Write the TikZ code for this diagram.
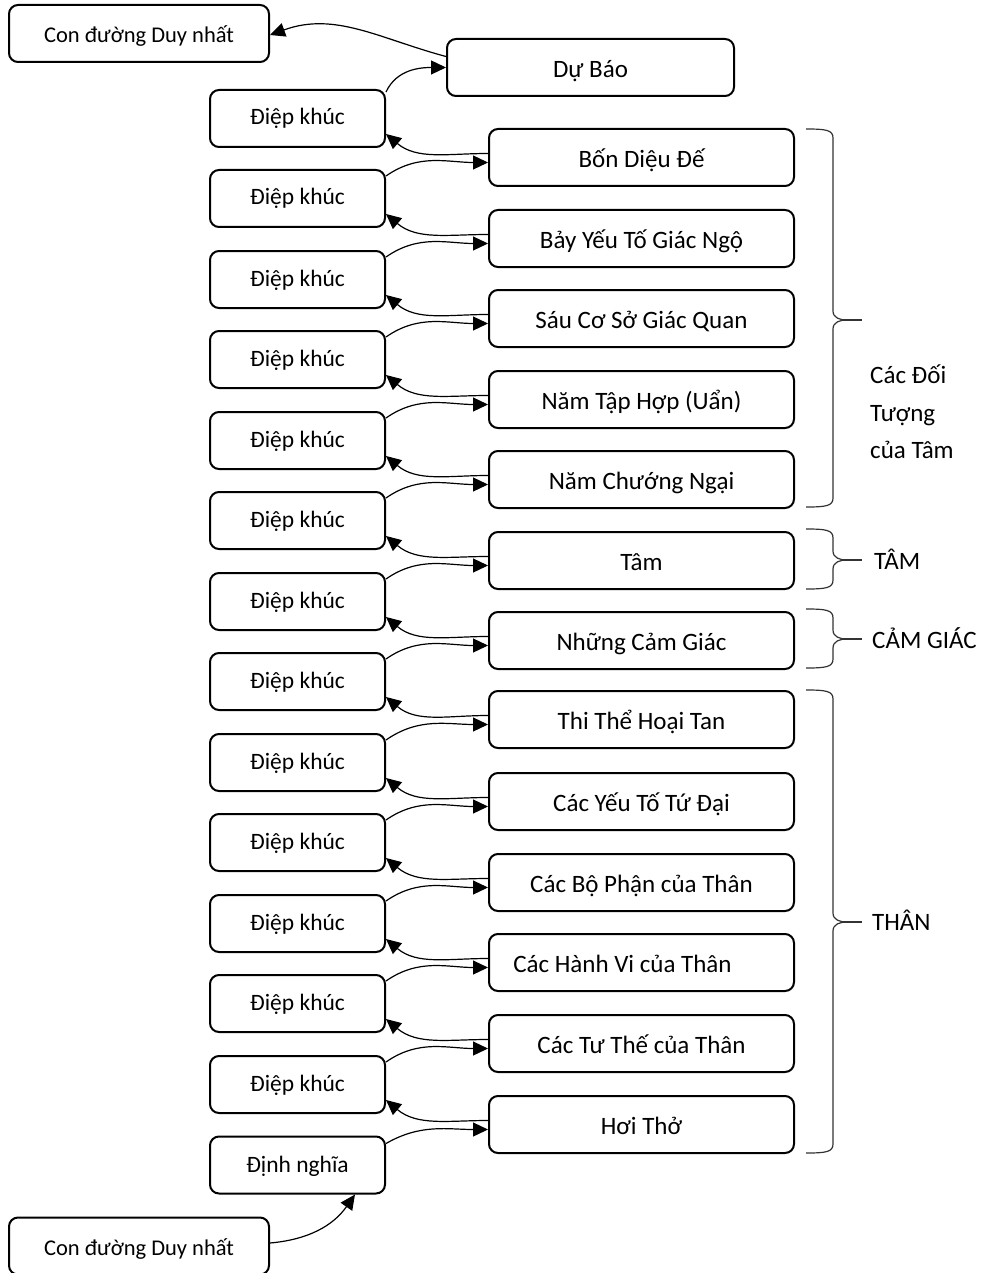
\documentclass[tikz,border=0pt]{standalone}
\usepackage{fontspec}
\setmainfont{Carlito}
\usetikzlibrary{arrows.meta}
\newcommand{\mybrace}[3]{%
  \draw[bracestyle] (806,#1) .. controls (826,#1) and (833,#1+1) .. (833,#1+9)
    -- (833,#3-9) .. controls (833,#3-2) and (840,#3) .. (847,#3)
    .. controls (840,#3) and (833,#3+2) .. (833,#3+9)
    -- (833,#2-9) .. controls (833,#2-1) and (826,#2) .. (806,#2);
  \draw[bracestyle, line width=1.6pt] (845,#3) -- (862,#3);}
\tikzset{
  box/.style={draw, line width=2pt, rounded corners=9pt, inner sep=0pt},
  rbox/.style={box, minimum width=305pt, minimum height=57pt, font=\fontsize{25}{30}\selectfont, text height=26pt, text depth=6pt},
  lbox/.style={box, minimum width=175pt, minimum height=57pt, font=\fontsize{23.5}{28}\selectfont, text height=19pt, text depth=6pt},
  cbox/.style={box, minimum width=260pt, minimum height=57pt, font=\fontsize{22.5}{27}\selectfont, text height=25pt, text depth=6pt},
  conn/.style={line width=1.2pt, -{Triangle[length=15pt,width=14pt]}},
  bracestyle/.style={line width=1.2pt, black!80},
  lab/.style={font=\fontsize{25}{30}\selectfont, anchor=base west, inner sep=0pt},
}
\begin{document}
\begin{tikzpicture}[x=1pt,y=-1pt]
\useasboundingbox (0,0) rectangle (996,1273);
% top and bottom
\node[cbox] (cd1) at (139,33.5) {Con đường Duy nhất};
\node[rbox, minimum width=287pt] (db) at (590.5,67.5) {Dự Báo};
\node[cbox] (cd2) at (139,1246) {Con đường Duy nhất};
% right boxes
\node[rbox] (r1) at (641.5,157.5) {Bốn Diệu Đế};
\node[rbox] (r2) at (641.5,238.5) {Bảy Yếu Tố Giác Ngộ};
\node[rbox] (r3) at (641.5,318.5) {Sáu Cơ Sở Giác Quan};
\node[rbox] (r4) at (641.5,399.5) {Năm Tập Hợp (Uẩn)};
\node[rbox] (r5) at (641.5,479.5) {Năm Chướng Ngại};
\node[rbox] (r6) at (641.5,560.5) {Tâm};
\node[rbox] (r7) at (641.5,640.5) {Những Cảm Giác};
\node[rbox] (r8) at (641.5,719.5) {Thi Thể Hoại Tan};
\node[rbox] (r9) at (641.5,801.5) {Các Yếu Tố Tứ Đại};
\node[rbox] (r10) at (641.5,882.5) {Các Bộ Phận của Thân};
\node[rbox] (r11) at (641.5,962.5) {\hspace*{-38pt}Các Hành Vi của Thân};
\node[rbox] (r12) at (641.5,1043.5) {Các Tư Thế của Thân};
\node[rbox] (r13) at (641.5,1124.5) {Hơi Thở};
% left boxes
\node[lbox] (l1) at (297.5,118.5) {Điệp khúc};
\node[lbox] (l2) at (297.5,198.5) {Điệp khúc};
\node[lbox] (l3) at (297.5,279.5) {Điệp khúc};
\node[lbox] (l4) at (297.5,359.5) {Điệp khúc};
\node[lbox] (l5) at (297.5,440.5) {Điệp khúc};
\node[lbox] (l6) at (297.5,520.5) {Điệp khúc};
\node[lbox] (l7) at (297.5,601.5) {Điệp khúc};
\node[lbox] (l8) at (297.5,681.5) {Điệp khúc};
\node[lbox] (l9) at (297.5,762.5) {Điệp khúc};
\node[lbox] (l10) at (297.5,842.5) {Điệp khúc};
\node[lbox] (l11) at (297.5,923.5) {Điệp khúc};
\node[lbox] (l12) at (297.5,1003.5) {Điệp khúc};
\node[lbox] (l13) at (297.5,1084.5) {Điệp khúc};
\node[lbox, text height=20.5pt] (dn) at (297.5,1165) {Định nghĩa};
% connectors
\draw[conn] ([yshift=11pt]db.west) to[out=165,in=20] ([yshift=-1.5pt]cd1.east);
\draw[conn] ([yshift=-3pt]l1.north east) to[out=65,in=180] (db.west);
\foreach \k in {1,...,13}
  \draw[conn] ([yshift=4pt]r\k.west) to[out=180,in=-40] ([yshift=14pt]l\k.south east);
\foreach \k [count=\j from 2] in {1,...,12}
  \draw[conn] ([yshift=-7pt]l\j.north east) to[out=35,in=180] ([yshift=-5pt]r\k.west);
\draw[conn] ([yshift=-8pt]dn.north east) to[out=30,in=180] ([yshift=-5pt]r13.west);
\draw[conn] ([yshift=3pt]cd2.east) to[out=5,in=-125] ([xshift=-31pt]dn.south east);
% braces
\mybrace{129}{507}{320}
\mybrace{529}{589}{560}
\mybrace{609}{668}{639}
\mybrace{690}{1153}{922}
% labels
\node[lab] (g1a) at (870,383) {Các Đối};
\node[lab] (g1b) at (870,421) {Tượng};
\node[lab] (g1c) at (870,458) {của Tâm};
\node[lab] (g2) at (874,569) {TÂM};
\node[lab] (g3) at (872,648) {CẢM GIÁC};
\node[lab] (g4) at (872,930) {THÂN};
\end{tikzpicture}
\end{document}
